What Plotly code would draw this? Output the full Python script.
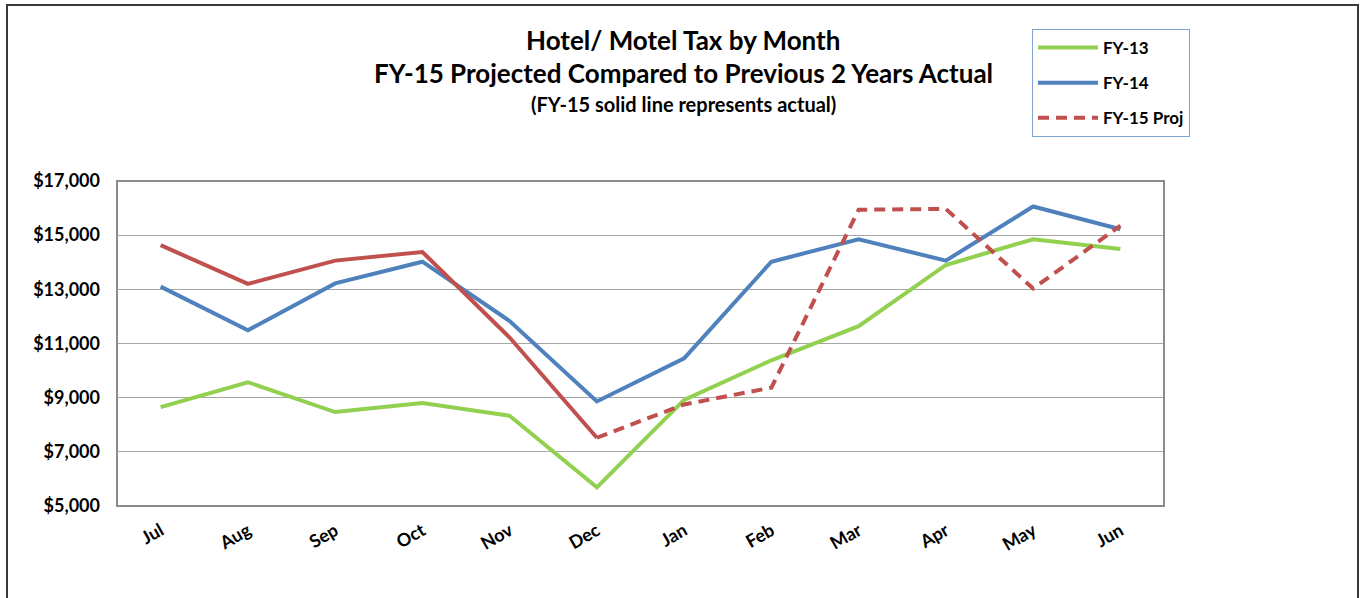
import plotly.graph_objects as go

months = ["Jul", "Aug", "Sep", "Oct", "Nov", "Dec", "Jan", "Feb", "Mar", "Apr", "May", "Jun"]
fy13 = [8650, 9570, 8470, 8800, 8330, 5690, 8920, 10380, 11640, 13900, 14850, 14490]
fy14 = [13100, 11490, 13220, 14020, 11830, 8860, 10450, 14020, 14850, 14060, 16060, 15220]
fy15 = [14630, 13200, 14060, 14380, 11220, 7520, 8750, 9370, 15940, 15970, 13030, 15350]
last_actual = 5  # index of Dec: last month with FY-15 actual

fy15_actual = [v if i <= last_actual else None for i, v in enumerate(fy15)]
fy15_proj = [v if i >= last_actual else None for i, v in enumerate(fy15)]

GREEN = "#92d050"
BLUE = "#4f81bd"
RED = "#c0504d"
FONT = "Lato, Carlito, Calibri, sans-serif"

fig = go.Figure()
fig.add_trace(go.Scatter(x=months, y=fy13, name="FY-13", mode="lines",
                         line=dict(color=GREEN, width=4), legendgroup="a"))
fig.add_trace(go.Scatter(x=months, y=fy14, name="FY-14", mode="lines",
                         line=dict(color=BLUE, width=4), legendgroup="b"))
fig.add_trace(go.Scatter(x=months, y=fy15_actual, name="FY-15 Actual", mode="lines",
                         line=dict(color=RED, width=4), showlegend=False, legendgroup="c"))
fig.add_trace(go.Scatter(x=months, y=fy15_proj, name="FY-15 Proj", mode="lines",
                         line=dict(color=RED, width=4, dash="11px,7px"), legendgroup="c"))

L, R, T, B = 117, 200, 181, 92
W, H = 1364, 598
pw, ph = W - L - R, H - T - B

def px_x(x):
    return (x - L) / pw

def px_y(y):
    return (H - B - y) / ph

fig.update_layout(
    width=W, height=H,
    margin=dict(l=L, r=R, t=T, b=B),
    paper_bgcolor="white", plot_bgcolor="white",
    font=dict(family=FONT, size=14, color="black"),
    showlegend=True,
    legend=dict(
        x=px_x(1032), y=px_y(29), xanchor="left", yanchor="top",
        bordercolor="#7fa3d3", borderwidth=1, bgcolor="white",
        font=dict(family=FONT, size=17, color="black", weight="bold"),
        tracegroupgap=10, traceorder="grouped",
        itemwidth=60, entrywidth=124,
    ),
    xaxis=dict(
        type="category", range=[-0.5, 11.5],
        showgrid=False, showline=False, zeroline=False,
        tickangle=-30, ticks="", ticklabelstandoff=10,
        tickfont=dict(family=FONT, size=18, color="black", weight="bold"),
    ),
    yaxis=dict(
        range=[5000, 17000], dtick=2000, tick0=5000,
        tickprefix="$", tickformat=",",
        showgrid=True, gridcolor="#a6a6a6", gridwidth=1,
        showline=False, zeroline=False, ticks="", ticklabelstandoff=16,
        tickfont=dict(family=FONT, size=18, color="black", weight="bold"),
    ),
    shapes=[
        # plot area border
        dict(type="rect", xref="paper", yref="paper", x0=0, x1=1, y0=0, y1=1,
             line=dict(color="#8c8c8c", width=2), layer="above"),
        # chart outer border
        dict(type="rect", xref="paper", yref="paper",
             x0=px_x(7), x1=px_x(1358), y0=px_y(5), y1=px_y(640),
             line=dict(color="#3a3a3a", width=2), layer="below"),
    ],
    annotations=[
        dict(text="<b>Hotel/ Motel Tax by Month</b>", xref="paper", yref="paper",
             x=px_x(683), y=px_y(40), xanchor="center", yanchor="middle", showarrow=False,
             font=dict(family=FONT, size=26, color="black")),
        dict(text="<b>FY-15 Projected Compared to Previous 2 Years Actual</b>", xref="paper", yref="paper",
             x=px_x(683), y=px_y(73), xanchor="center", yanchor="middle", showarrow=False,
             font=dict(family=FONT, size=26, color="black")),
        dict(text="<b>(FY-15 solid line represents actual)</b>", xref="paper", yref="paper",
             x=px_x(683), y=px_y(104), xanchor="center", yanchor="middle", showarrow=False,
             font=dict(family=FONT, size=20, color="black")),
    ],
)

fig.write_html("out.html", config={"displayModeBar": False},
               post_script="document.body.style.margin='0';document.body.style.overflow='hidden';")
